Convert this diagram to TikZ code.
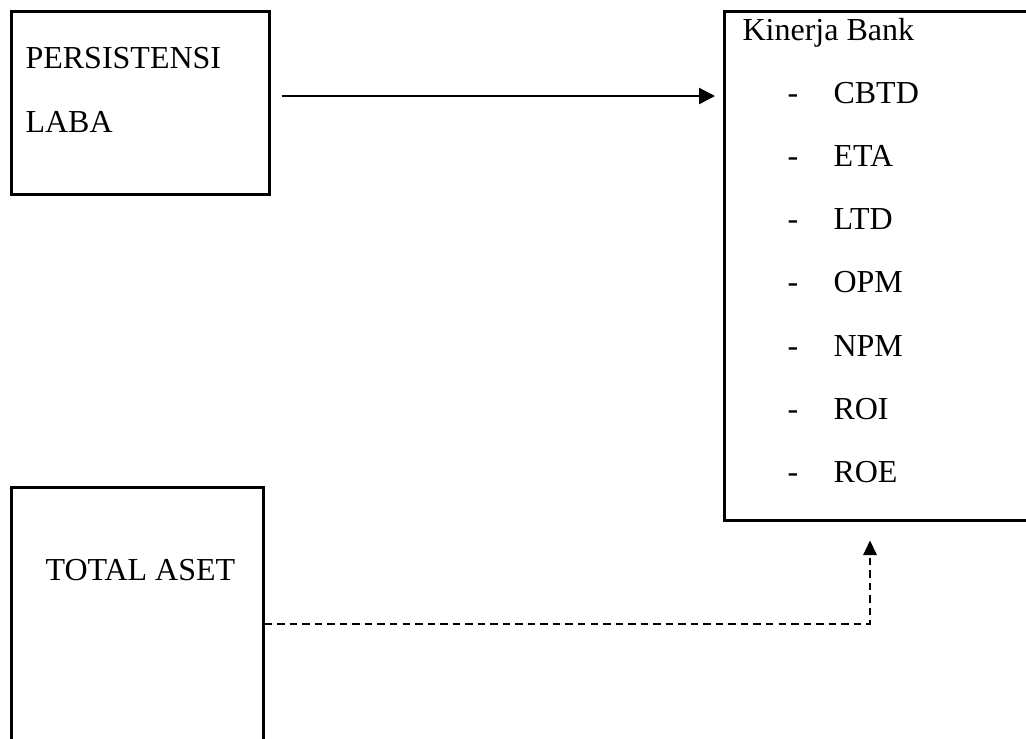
\documentclass[tikz,border=0pt]{standalone}
\usepackage{fontspec}
\setmainfont{Liberation Serif}
\usetikzlibrary{arrows.meta}

\tikzset{
	box/.style={draw=black,line width=1pt,rectangle,anchor=north west,inner sep=0pt},
	txt/.style={anchor=base west,inner sep=0pt,font=\fontsize{12}{14}\selectfont},
	flow/.style={draw=black,line width=0.85pt,-{Triangle[length=6pt,width=6pt]}},
	dashflow/.style={flow,dash pattern=on 2.8pt off 1.9pt,-{Triangle[length=5.5pt,width=5pt]}}
}

\begin{document}
\begin{tikzpicture}[x=0.375pt,y=-0.375pt]
	\useasboundingbox (0,0) rectangle (1026,738);

	\begin{scope}[every node/.style={box}]
		\node[minimum width=96.75pt,minimum height=68.6pt] (persis) at (10,10) {};
		\node[minimum width=120pt,minimum height=190.9pt] (kinerja) at (723,10) {};
		\node[minimum width=94.5pt,minimum height=103.5pt] (aset) at (10,486) {};
	\end{scope}

	\begin{scope}[every node/.style={txt}]
		\node (persis1) at (25,68) {PERSISTENSI};
		\node (persis2) at (25,132) {LABA};
		\node (kinerjatitle) at (742,40) {Kinerja Bank};
		\foreach \name [count=\i] in {CBTD,ETA,LTD,OPM,NPM,ROI,ROE} {
			\node (dash\i) at (787,39.7+63.3*\i) {-};
			\node (item\i) at (833,39.7+63.3*\i) {\name};
		}
		\node (asettext) at (45,580) {TOTAL ASET};
	\end{scope}

	% arrows
	\coordinate (arrowrow) at (0,96);
	\coordinate (turn) at (870,624);
	\draw [flow,shorten <=4.1pt,shorten >=3pt] (persis.east |- arrowrow) -- (kinerja.west |- arrowrow);
	\draw [dashflow,shorten >=7pt] (aset.east |- turn) -- (turn) -- (turn |- kinerja.south);
\end{tikzpicture}
\end{document}
